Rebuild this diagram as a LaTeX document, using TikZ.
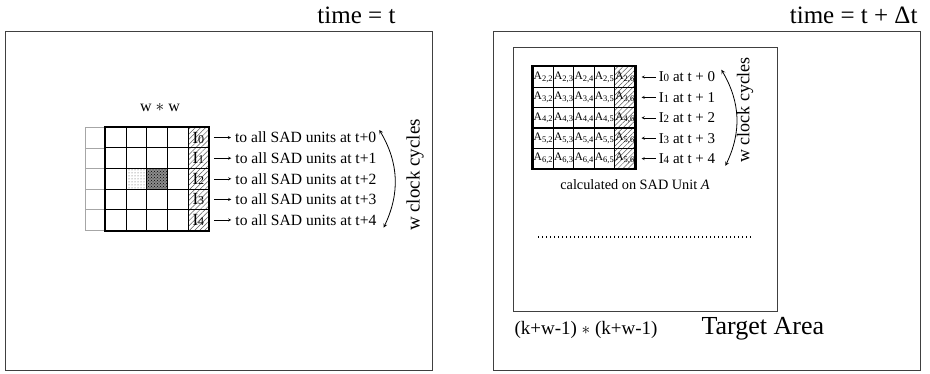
\documentclass[tikz,border=0pt]{standalone}
\usepackage{fontspec}
\setmainfont{Liberation Serif}
\usepackage{tikz}
\usetikzlibrary{arrows,positioning,calc,patterns,patterns.meta}
\newcommand{\fsz}[1]{\fontsize{#1}{#1}\selectfont}
\newcommand{\Aidx}[2]{A\raisebox{-1.8pt}{\fsz{8.5}#1,#2}}

\begin{document}
\begin{tikzpicture}[
    x=1pt, y=-1pt,
    >=stealth,
    frame/.style={draw=black!75, line width=0.8pt},
    gridcell/.style={rectangle, draw, line width=1.1pt, minimum size=20.6pt, inner sep=0pt},
    ghostcell/.style={gridcell, draw=black!35, line width=0.7pt},
    hatch/.style={pattern={Lines[angle=45, distance=3.6pt, line width=0.5pt]}, pattern color=black!65},
    hatchcell/.style={gridcell, hatch},
    unitcell/.style={gridcell, minimum size=20.4pt, font=\fsz{11.5}},
    lbl/.style={inner sep=2pt, anchor=west}
]
    \useasboundingbox (0,0) rectangle (930,374);

    % Two snapshots
    \draw[frame] (5,31) rectangle (432,370);
    \draw[frame] (493,31) rectangle (920,370);
    \node[font=\fsz{25}, anchor=east] (timeL) at (399,15) {time = t};
    \node[font=\fsz{25}, anchor=east] (timeR) at (921,15) {time = t + Δt};

    % Search window at time t
    \node[font=\fsz{16}] (ww) at (160,108) {w $\ast$ w};
    \foreach \r in {0,...,4} {
        \node[ghostcell] (g\r) at (95.4,137.6+20.6*\r) {};
        \foreach \c in {0,...,3}
            \node[gridcell] (c\r\c) at (116+20.6*\c,137.6+20.6*\r) {};
        \node[hatchcell] (I\r) at (198.4,137.6+20.6*\r) {\fsz{17}I\fsz{12}\r};
        \node[lbl, font=\fsz{15.6}, right=24pt of I\r] (send\r) {to all SAD units at t+\r};
        \draw[->, shorten <=5pt, shorten >=2pt] (I\r) -- (send\r);
    }
    \node[gridcell, pattern=dots, pattern color=black!70] (prev) at (c21) {};
    \node[gridcell, preaction={fill=black!45}, pattern=crosshatch dots] (cur) at (c22) {};
    \draw[line width=2pt] (c00.north west) rectangle (I4.south east);

    \draw[<->, line width=0.8pt] ([xshift=1pt]send0.north east) to[bend left=28] ([xshift=5pt]send4.south east);
    \node[font=\fsz{19}, rotate=90] (clkL) at (415,175) {w clock cycles};

    % Target area at time t + dt
    \draw[frame] (513,47) rectangle (777,311);
    \foreach \r/\h in {0/2,1/3,2/4,3/5,4/5} {
        \pgfmathtruncatemacro{\row}{\r+2}
        \foreach \c in {2,...,5}
            \node[unitcell] (a\r\c) at (543.2+20.4*\c-40.8,77+20.4*\r) {\Aidx{\row}{\c}};
        \node[unitcell, hatch] (J\r) at (624.8,77+20.4*\r) {\Aidx{\h}{6}};
        \node[lbl, font=\fsz{15}, right=21pt of J\r] (recv\r) {I\fsz{11}\r\fsz{15} at t + \r};
        \draw[->, shorten >=6pt, shorten <=1pt] (recv\r) -- (J\r);
    }
    \draw[line width=2pt] (a02.north west) rectangle (J4.south east);

    \draw[<->, line width=0.8pt] ([xshift=4pt]recv0.north east) to[bend left=28] ([xshift=8pt]recv4.south east);
    \node[font=\fsz{18}, rotate=90] (clkR) at (745,110) {w clock cycles};
    \node[font=\fsz{14.3}] (calc) at (635,185) {calculated on SAD Unit \textit{A}};

    \draw[dash pattern=on 1.2pt off 2.8pt, line width=1.2pt] (538,237) -- (752,237);
    \node[font=\fsz{19}, anchor=west] (size) at (511,330) {(k+w-1) $\ast$ (k+w-1)};
    \node[font=\fsz{26}, anchor=west] (target) at (698,329) {Target Area};
\end{tikzpicture}
\end{document}
